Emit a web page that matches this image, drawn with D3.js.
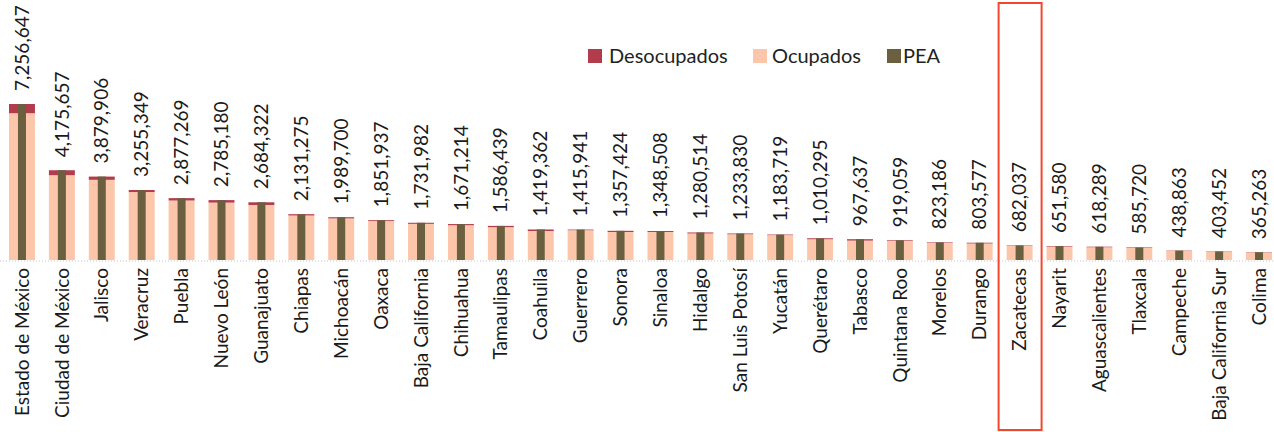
<!DOCTYPE html>
<html><head><meta charset="utf-8">
<script src="https://cdn.jsdelivr.net/npm/d3@7"></script>
<style>
html,body{margin:0;padding:0;background:#fff;}
svg{display:block;font-family:Lato,"Open Sans",sans-serif;}
</style></head>
<body><svg id="c" width="1274" height="432"></svg>
<script>
const categories = ["Estado de México","Ciudad de México","Jalisco","Veracruz","Puebla","Nuevo León","Guanajuato","Chiapas","Michoacán","Oaxaca","Baja California","Chihuahua","Tamaulipas","Coahuila","Guerrero","Sonora","Sinaloa","Hidalgo","San Luis Potosí","Yucatán","Querétaro","Tabasco","Quintana Roo","Morelos","Durango","Zacatecas","Nayarit","Aguascalientes","Tlaxcala","Campeche","Baja California Sur","Colima"];
const pea = [7256647,4175657,3879906,3255349,2877269,2785180,2684322,2131275,1989700,1851937,1731982,1671214,1586439,1419362,1415941,1357424,1348508,1280514,1233830,1183719,1010295,967637,919059,823186,803577,682037,651580,618289,585720,438863,403452,365263];
const desocupados = [430000,230000,150000,95000,110000,115000,125000,60000,55000,40000,50000,55000,60000,70000,30000,55000,45000,45000,35000,25000,45000,65000,30000,25000,35000,20000,25000,25000,25000,15000,15000,15000];
const ocupados = pea.map((v,i)=>v-desocupados[i]);
const seriesNames = ["Desocupados","Ocupados","PEA"];
const highlight = "Zacatecas";

const colors = {Desocupados:"#b23b4c", Ocupados:"#fcc6ab", PEA:"#6a5f3e"};
const svg = d3.select("#c");
const baseY = 260, topY = 104;
const x = d3.scaleBand().domain(categories).range([9,1272]).paddingInner(0.35).paddingOuter(0);
const y = d3.scaleLinear().domain([0, d3.max(pea)]).range([baseY, topY]);

// baseline
svg.append("line").attr("x1",0).attr("x2",1274).attr("y1",baseY+1).attr("y2",baseY+1)
  .attr("stroke","#c8c8c8").attr("stroke-dasharray","1,2");

const g = svg.append("g");
// ocupados
g.selectAll(".oc").data(categories).join("rect")
  .attr("x",d=>x(d)).attr("width",x.bandwidth())
  .attr("y",(d,i)=>y(ocupados[i])).attr("height",(d,i)=>baseY-y(ocupados[i]))
  .attr("fill",colors.Ocupados);
// desocupados
g.selectAll(".de").data(categories).join("rect")
  .attr("x",d=>x(d)).attr("width",x.bandwidth())
  .attr("y",(d,i)=>y(pea[i])).attr("height",(d,i)=>y(ocupados[i])-y(pea[i]))
  .attr("fill",colors.Desocupados);
// PEA thin bar
const pw = 8;
g.selectAll(".pe").data(categories).join("rect")
  .attr("x",d=>x(d)+x.bandwidth()/2-pw/2).attr("width",pw)
  .attr("y",(d,i)=>y(pea[i])).attr("height",(d,i)=>baseY-y(pea[i]))
  .attr("fill",colors.PEA);

// value labels
const fmt = d3.format(",");
g.selectAll(".vl").data(categories).join("text")
  .attr("transform",(d,i)=>`translate(${x(d)+x.bandwidth()/2},${y(pea[i])-13}) rotate(-90)`)
  .attr("dy","0.35em").attr("font-size",19).attr("fill","#1a1a1a")
  .text((d,i)=>fmt(pea[i]));

// category labels
g.selectAll(".cl").data(categories).join("text")
  .attr("transform",d=>`translate(${x(d)+x.bandwidth()/2},${baseY+8}) rotate(-90)`)
  .attr("dy","0.35em").attr("text-anchor","end").attr("font-size",19).attr("fill","#1a1a1a")
  .text(d=>d);

// highlight box
const hx = x(highlight)+x.bandwidth()/2;
svg.append("rect").attr("x",hx-21).attr("y",3).attr("width",43).attr("height",427)
  .attr("fill","none").attr("stroke","#f2472e").attr("stroke-width",2);

// legend
const legX = [588,753,887];
const legT = [609,772,903];
const leg = svg.append("g");
seriesNames.forEach((s,i)=>{
  leg.append("rect").attr("x",legX[i]).attr("y",49).attr("width",14).attr("height",14).attr("fill",colors[s]);
  leg.append("text").attr("x",legT[i]).attr("y",56).attr("dy","0.35em")
    .attr("font-size",20).attr("fill","#222").text(s);
});
</script></body></html>
